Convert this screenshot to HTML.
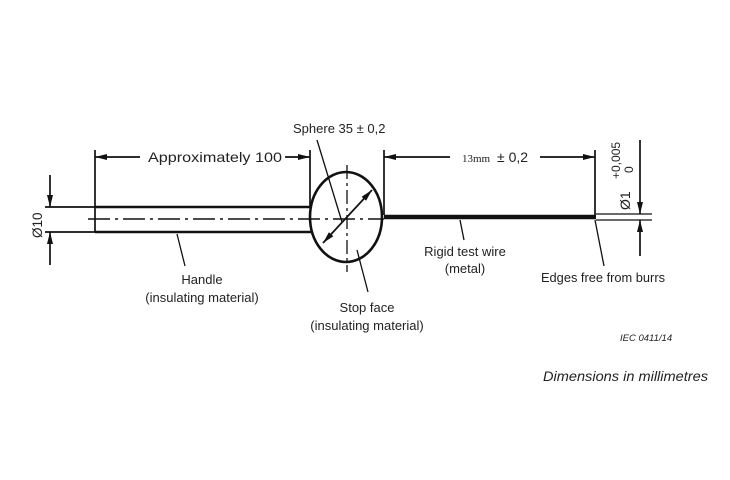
<!DOCTYPE html>
<html><head><style>
html,body{margin:0;padding:0;background:#fff;}
svg{display:block;}
text{font-family:"Liberation Sans",Arial,sans-serif;fill:#222;}
</style></head><body>
<svg width="730" height="480" viewBox="0 0 730 480" xmlns="http://www.w3.org/2000/svg">
<defs>
<marker id="a" viewBox="0 0 12 6" refX="12" refY="3" markerWidth="12" markerHeight="6" orient="auto" markerUnits="userSpaceOnUse"><path d="M0,0 L12,3 L0,6 z" fill="#111"/></marker>
</defs>
<g stroke="#111" fill="none" stroke-width="1.7">
<line x1="95" y1="207" x2="312" y2="207" stroke-width="2.5"/>
<line x1="95" y1="232" x2="312" y2="232" stroke-width="2.5"/>
<line x1="95" y1="150" x2="95" y2="232"/>
<line x1="45" y1="207" x2="95" y2="207"/>
<line x1="45" y1="232" x2="95" y2="232"/>
<line x1="50" y1="175" x2="50" y2="207" marker-end="url(#a)"/>
<line x1="50" y1="265" x2="50" y2="232" marker-end="url(#a)"/>
<line x1="88" y1="219" x2="384" y2="219" stroke-width="1.5" stroke-dasharray="22,5,3,5"/>
<line x1="347" y1="165" x2="347" y2="272" stroke-width="1.3" stroke-dasharray="14,4,3,4"/>
<ellipse cx="346" cy="217" rx="36" ry="45" stroke-width="2.6"/>
<line x1="310" y1="150" x2="310" y2="208"/>
<line x1="384" y1="150" x2="384" y2="215"/>
<line x1="140" y1="157" x2="95" y2="157" marker-end="url(#a)"/>
<line x1="285" y1="157" x2="310" y2="157" marker-end="url(#a)"/>
<line x1="347" y1="217" x2="372" y2="190" marker-end="url(#a)"/>
<line x1="347" y1="217" x2="323" y2="243" marker-end="url(#a)"/>
<line x1="317" y1="140" x2="342" y2="222" stroke-width="1.3"/>
<line x1="384" y1="217" x2="596" y2="217" stroke-width="4.5"/>
<line x1="596" y1="214" x2="652" y2="214" stroke-width="1.3"/>
<line x1="596" y1="220" x2="652" y2="220" stroke-width="1.3"/>
<line x1="595" y1="150" x2="595" y2="216"/>
<line x1="450" y1="157" x2="384" y2="157" marker-end="url(#a)"/>
<line x1="540" y1="157" x2="595" y2="157" marker-end="url(#a)"/>
<line x1="640" y1="140" x2="640" y2="214" marker-end="url(#a)"/>
<line x1="640" y1="256" x2="640" y2="220" marker-end="url(#a)"/>
<line x1="177" y1="234" x2="185" y2="266" stroke-width="1.3"/>
<line x1="357" y1="250" x2="368" y2="292" stroke-width="1.3"/>
<line x1="460" y1="220" x2="464" y2="240" stroke-width="1.3"/>
<line x1="595" y1="220" x2="604" y2="266" stroke-width="1.3"/>
</g>
<text x="293" y="133" font-size="13">Sphere 35 ± 0,2</text>
<text x="148" y="162" font-size="14" textLength="134" lengthAdjust="spacingAndGlyphs">Approximately 100</text>
<text x="462" y="162" font-size="11" style="font-family:'Liberation Serif',serif">13mm</text>
<text x="497" y="162" font-size="14">± 0,2</text>
<text x="202" y="284" font-size="13" text-anchor="middle">Handle</text>
<text x="202" y="302" font-size="13" text-anchor="middle">(insulating material)</text>
<text x="367" y="312" font-size="13" text-anchor="middle">Stop face</text>
<text x="367" y="330" font-size="13" text-anchor="middle">(insulating material)</text>
<text x="465" y="256" font-size="13" text-anchor="middle">Rigid test wire</text>
<text x="465" y="273" font-size="13" text-anchor="middle">(metal)</text>
<text x="541" y="282" font-size="13" textLength="124" lengthAdjust="spacingAndGlyphs">Edges free from burrs</text>
<text x="620" y="341" font-size="9.5" font-style="italic">IEC  0411/14</text>
<text x="543" y="381" font-size="14" font-style="italic" textLength="165" lengthAdjust="spacingAndGlyphs">Dimensions in millimetres</text>
<text transform="translate(42,238) rotate(-90)" font-size="13.5">Ø10</text>
<text transform="translate(630,210) rotate(-90)" font-size="14">Ø1</text>
<text transform="translate(620,179) rotate(-90)" font-size="12">+0,005</text>
<text transform="translate(633,173) rotate(-90)" font-size="12">0</text>
</svg>
</body></html>
